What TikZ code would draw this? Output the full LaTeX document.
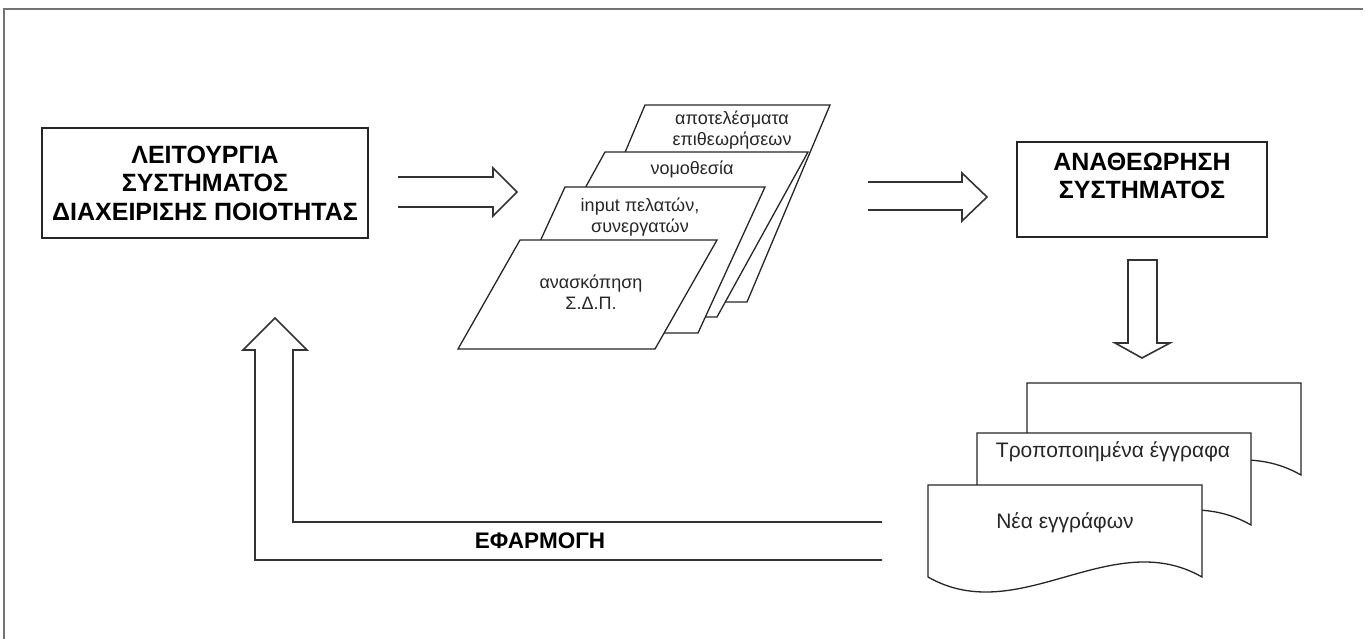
\documentclass[tikz,border=0pt]{standalone}
\usepackage{fontspec}
\setmainfont{Liberation Sans}
\usetikzlibrary{positioning}

\tikzset{
  frameline/.style={line width=2.5pt, black!55},
  blockarrow/.style={line width=1.6pt, black!80, line join=miter},
  boxline/.style={draw=black!85, line width=1.8pt},
  sheet/.style={draw=black!85, fill=white, line width=1.3pt, line join=miter},
  boldlabel/.style={font=\bfseries\fontsize{25}{28.5}\selectfont, align=center, inner sep=0pt},
  smalllabel/.style={font=\fontsize{18}{21}\selectfont, align=center, inner sep=0pt, text=black!85},
  doclabel/.style={font=\fontsize{21}{24}\selectfont, inner sep=0pt, text=black!85},
}

% one document sheet with a wavy bottom, top left corner at (#1,#2)
\newcommand{\docsheet}[2]{%
  \draw[sheet] (#1,#2) -- ++(274,0) -- ++(0,92)
    .. controls ++(-91,-52) and ++(91,52) .. ++(-274,0) -- cycle;}

\begin{document}
\begin{tikzpicture}[x=1pt,y=-1pt]
  \useasboundingbox (0,0) rectangle (1371,639);

  % page frame
  \draw[frameline] (4,639) -- (4,9) -- (1363,9);

  % the two boxes
  \node[boxline, boldlabel, minimum width=326pt, minimum height=110pt] (qms)
    at (205,183) {ΛΕΙΤΟΥΡΓΙΑ\\ΣΥΣΤΗΜΑΤΟΣ\\ΔΙΑΧΕΙΡΙΣΗΣ ΠΟΙΟΤΗΤΑΣ};
  \node[boxline, minimum width=250pt, minimum height=95pt] (review) at (1142,189.5) {};
  \node[boldlabel] (reviewtext) at (1142,176) {ΑΝΑΘΕΩΡΗΣΗ\\ΣΥΣΤΗΜΑΤΟΣ};

  % stack of inputs, back to front
  \draw[sheet] (645,105) -- (830,105) -- (747,302) -- (562,302) -- cycle;
  \draw[sheet] (605,152) -- (808,152) -- (717,317) -- (514,317) -- cycle;
  \draw[sheet] (565,187) -- (765,187) -- (698,333) -- (498,333) -- cycle;
  \draw[sheet] (520,240) -- (717,240) -- (655,349) -- (458,349) -- cycle;

  \node[smalllabel] (audits) at (732,130) {αποτελέσματα\\επιθεωρήσεων};
  \node[smalllabel] (law) at (692,169) {νομοθεσία};
  \node[smalllabel] (clients) at (640,217) {input πελατών,\\συνεργατών};
  \node[smalllabel] (sdp) at (591,292) {ανασκόπηση\\Σ.Δ.Π.};

  % block arrows
  \draw[blockarrow] (398,177) -- (493,177) -- (493,168) -- (517,192)
    -- (493,216) -- (493,207) -- (398,207);
  \draw[blockarrow] (868,182) -- (962,182) -- (962,173) -- (987,197)
    -- (962,221) -- (962,210) -- (868,210);
  \draw[blockarrow] (1128,260) -- (1157,260) -- (1157,343) -- (1170,343)
    -- (1142,358) -- (1115,343) -- (1128,343) -- cycle;

  % stack of documents
  \docsheet{1027}{383}
  \docsheet{977}{433}
  \docsheet{928}{485}
  \node[doclabel] (changed) at (1113,452) {Τροποποιημένα έγγραφα};
  \node[doclabel] (newdocs) at (1065,523) {Νέα εγγράφων};

  % feedback arrow
  \draw[blockarrow] (882,560) -- (255,560) -- (255,350) -- (243,350)
    -- (275,318) -- (307,350) -- (293,350) -- (293,522) -- (882,522);
  \node[font=\bfseries\fontsize{22.5}{26}\selectfont, inner sep=0pt] (apply)
    at (540,541) {ΕΦΑΡΜΟΓΗ};
\end{tikzpicture}
\end{document}
